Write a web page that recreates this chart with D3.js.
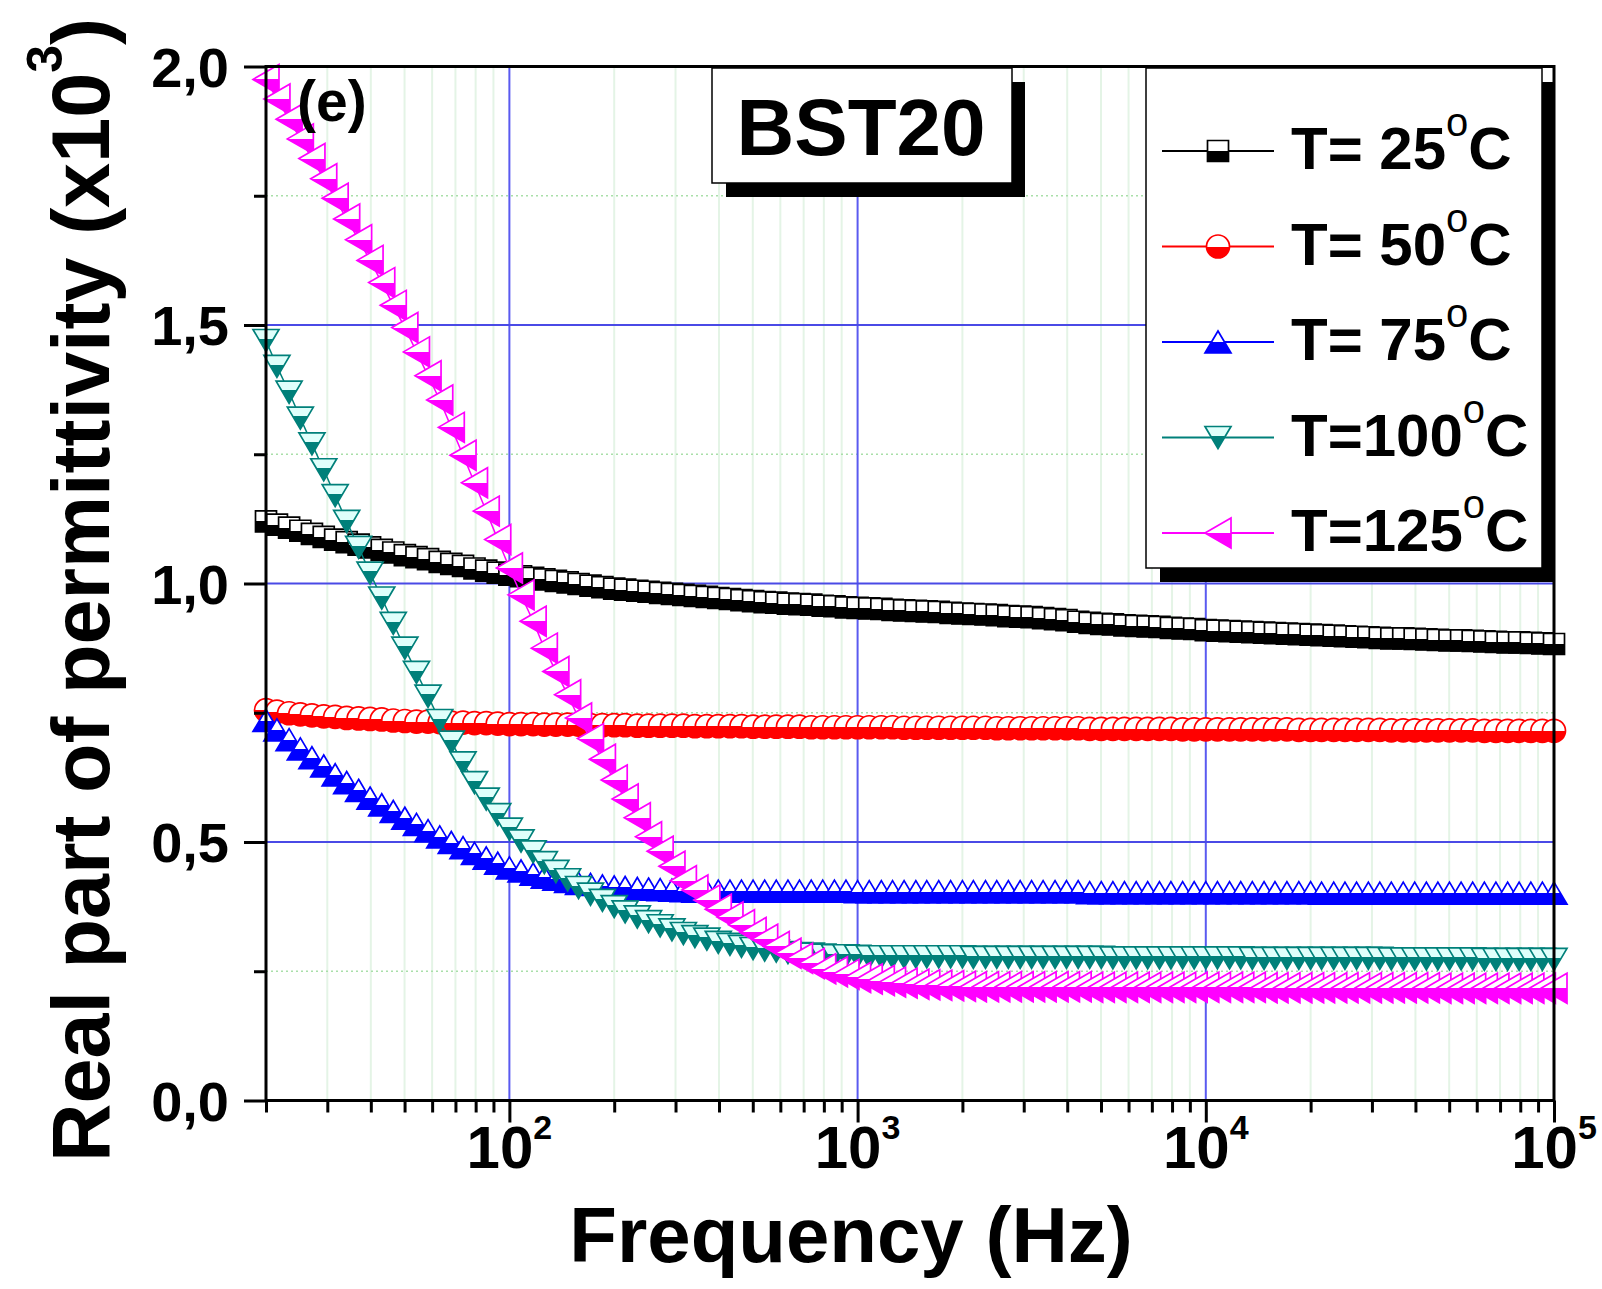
<!DOCTYPE html>
<html>
<head>
<meta charset="utf-8">
<script src="https://cdn.jsdelivr.net/npm/d3@7"></script>
<style>
  body { margin: 0; background: #fff; }
  svg { display: block; }
  text { font-family: "Liberation Sans", Arial, Helvetica, sans-serif; font-weight: bold; fill: #000; }
</style>
</head>
<body>
<svg id="chart" width="1602" height="1289"></svg>
<script>
// ---------------- DATA ----------------
const frequencies = [
  20, 21.5, 23.3, 25.1, 27.1, 29.3, 31.6, 34.1, 36.9, 39.8,
  43, 46.4, 50.1, 54.1, 58.4, 63.1, 68.1, 73.6, 79.4, 85.8, 92.6,
  100, 108, 117, 126, 136, 147, 158, 171, 185, 200,
  215, 233, 251, 271, 293, 316, 341, 369, 398, 430,
  464, 501, 541, 584, 631, 681, 736, 794, 858, 926,
  1000, 1080, 1170, 1260, 1360, 1470, 1580, 1710, 1850, 2000,
  2150, 2330, 2510, 2710, 2930, 3160, 3410, 3690, 3980, 4300,
  4640, 5010, 5410, 5840, 6310, 6810, 7360, 7940, 8580, 9260,
  10000, 10800, 11700, 12600, 13600, 14700, 15800, 17100, 18500, 20000,
  21500, 23300, 25100, 27100, 29300, 31600, 34100, 36900, 39800, 43000,
  46400, 50100, 54100, 58400, 63100, 68100, 73600, 79400, 85800, 92600,
  100000
];

// real part of permittivity (x10^3)
const eps25 = [
  1.120, 1.114, 1.108, 1.102, 1.096, 1.090, 1.085, 1.080, 1.075, 1.070,
  1.065, 1.060, 1.055, 1.051, 1.047, 1.042, 1.038, 1.034, 1.029, 1.025,
  1.021, 1.017, 1.014, 1.011, 1.008, 1.005, 1.002, 0.999, 0.996, 0.993,
  0.990, 0.988, 0.986, 0.984, 0.982, 0.980, 0.978, 0.976, 0.974, 0.972,
  0.970, 0.968, 0.966, 0.964, 0.963, 0.961, 0.960, 0.959, 0.957, 0.956,
  0.954, 0.953, 0.952, 0.951, 0.949, 0.948, 0.947, 0.946, 0.945, 0.943,
  0.942, 0.941, 0.940, 0.939, 0.937, 0.936, 0.935, 0.933, 0.931, 0.929,
  0.926, 0.924, 0.922, 0.921, 0.919, 0.918, 0.917, 0.916, 0.914, 0.913,
  0.912, 0.910, 0.909, 0.908, 0.907, 0.906, 0.905, 0.904, 0.903, 0.902,
  0.901, 0.900, 0.899, 0.898, 0.897, 0.896, 0.895, 0.894, 0.894, 0.893,
  0.892, 0.891, 0.890, 0.890, 0.889, 0.888, 0.887, 0.886, 0.886, 0.885,
  0.884, 0.883
];
const eps50 = [
  0.755, 0.752, 0.749, 0.747, 0.745, 0.743, 0.742, 0.740, 0.739, 0.738,
  0.737, 0.735, 0.734, 0.733, 0.733, 0.732, 0.731, 0.731, 0.730, 0.730,
  0.729, 0.728, 0.728, 0.728, 0.727, 0.727, 0.727, 0.727, 0.726, 0.726,
  0.726, 0.726, 0.725, 0.725, 0.725, 0.725, 0.725, 0.724, 0.724, 0.724,
  0.724, 0.724, 0.723, 0.723, 0.723, 0.723, 0.723, 0.722, 0.722, 0.722,
  0.722, 0.722, 0.722, 0.722, 0.722, 0.721, 0.721, 0.721, 0.721, 0.721,
  0.721, 0.721, 0.721, 0.720, 0.720, 0.720, 0.720, 0.720, 0.720, 0.720,
  0.720, 0.719, 0.719, 0.719, 0.719, 0.719, 0.719, 0.719, 0.719, 0.718,
  0.718, 0.718, 0.718, 0.718, 0.718, 0.718, 0.718, 0.718, 0.718, 0.717,
  0.717, 0.717, 0.717, 0.717, 0.717, 0.717, 0.717, 0.716, 0.716, 0.716,
  0.716, 0.716, 0.716, 0.716, 0.716, 0.715, 0.715, 0.715, 0.715, 0.715,
  0.715, 0.715
];
const eps75 = [
  0.735, 0.717, 0.698, 0.680, 0.663, 0.647, 0.630, 0.615, 0.600, 0.585,
  0.572, 0.559, 0.546, 0.534, 0.522, 0.510, 0.499, 0.489, 0.478, 0.469,
  0.459, 0.450, 0.444, 0.438, 0.432, 0.428, 0.424, 0.420, 0.418, 0.415,
  0.413, 0.412, 0.410, 0.409, 0.408, 0.407, 0.406, 0.405, 0.405, 0.405,
  0.405, 0.405, 0.405, 0.405, 0.405, 0.405, 0.405, 0.405, 0.405, 0.405,
  0.405, 0.404, 0.404, 0.404, 0.404, 0.404, 0.404, 0.404, 0.404, 0.404,
  0.404, 0.404, 0.404, 0.404, 0.404, 0.404, 0.404, 0.404, 0.404, 0.404,
  0.404, 0.402, 0.402, 0.402, 0.402, 0.402, 0.402, 0.402, 0.402, 0.402,
  0.402, 0.402, 0.402, 0.402, 0.402, 0.402, 0.402, 0.402, 0.402, 0.402,
  0.402, 0.401, 0.401, 0.401, 0.401, 0.401, 0.401, 0.401, 0.401, 0.401,
  0.401, 0.401, 0.401, 0.401, 0.401, 0.401, 0.401, 0.401, 0.401, 0.401,
  0.401, 0.401
];
const eps100 = [
  1.470, 1.420, 1.370, 1.320, 1.270, 1.220, 1.170, 1.120, 1.070, 1.020,
  0.972, 0.923, 0.875, 0.828, 0.782, 0.735, 0.693, 0.653, 0.615, 0.583,
  0.553, 0.525, 0.502, 0.481, 0.460, 0.443, 0.427, 0.412, 0.399, 0.387,
  0.375, 0.365, 0.355, 0.346, 0.338, 0.330, 0.323, 0.317, 0.312, 0.306,
  0.302, 0.298, 0.294, 0.291, 0.289, 0.286, 0.284, 0.283, 0.281, 0.280,
  0.280, 0.279, 0.278, 0.278, 0.278, 0.278, 0.278, 0.278, 0.278, 0.278,
  0.278, 0.277, 0.277, 0.277, 0.277, 0.277, 0.277, 0.277, 0.277, 0.277,
  0.277, 0.277, 0.277, 0.276, 0.276, 0.276, 0.276, 0.276, 0.276, 0.276,
  0.276, 0.276, 0.276, 0.276, 0.276, 0.275, 0.275, 0.275, 0.275, 0.275,
  0.275, 0.275, 0.275, 0.275, 0.275, 0.275, 0.275, 0.274, 0.274, 0.274,
  0.274, 0.274, 0.274, 0.274, 0.274, 0.273, 0.273, 0.273, 0.273, 0.273,
  0.273, 0.273
];
const eps125 = [
  1.975, 1.937, 1.898, 1.860, 1.822, 1.783, 1.745, 1.705, 1.665, 1.625,
  1.582, 1.538, 1.495, 1.448, 1.402, 1.355, 1.302, 1.248, 1.195, 1.140,
  1.085, 1.030, 0.978, 0.927, 0.875, 0.830, 0.785, 0.740, 0.700, 0.660,
  0.620, 0.583, 0.547, 0.510, 0.482, 0.453, 0.425, 0.407, 0.388, 0.370,
  0.355, 0.340, 0.325, 0.312, 0.298, 0.285, 0.275, 0.265, 0.255, 0.249,
  0.244, 0.238, 0.235, 0.232, 0.229, 0.227, 0.225, 0.224, 0.223, 0.222,
  0.221, 0.220, 0.220, 0.220, 0.220, 0.220, 0.220, 0.220, 0.220, 0.220,
  0.220, 0.219, 0.219, 0.219, 0.219, 0.219, 0.219, 0.219, 0.219, 0.219,
  0.219, 0.219, 0.219, 0.219, 0.219, 0.219, 0.218, 0.218, 0.218, 0.218,
  0.218, 0.218, 0.218, 0.218, 0.218, 0.218, 0.218, 0.218, 0.218, 0.218,
  0.218, 0.217, 0.217, 0.217, 0.217, 0.217, 0.217, 0.217, 0.217, 0.217,
  0.217, 0.217
];

const seriesValues = [eps25, eps50, eps75, eps100, eps125];
const seriesLabels = ["T= 25", "T= 50", "T= 75", "T=100", "T=125"];
const seriesColors = ["#000000", "#ff0000", "#0000ff", "#00807a", "#ff00ff"];
const seriesOpenColors = ["#ffffff", "#ffffff", "#ffffff", "#dffffb", "#ffffff"];
const seriesFillSplit = [0.5, 0.5, 0.5, 0.42, 0.5];
const seriesShapes = ["square", "circle", "triangleUp", "triangleDown", "triangleLeft"];

const xTickValues = [100, 1000, 10000, 100000];
const xTickExponents = ["2", "3", "4", "5"];
const yTickValues = [0, 0.5, 1.0, 1.5, 2.0];
const yTickLabels = ["0,0", "0,5", "1,0", "1,5", "2,0"];
const yMinorTickValues = [0.25, 0.75, 1.25, 1.75];

// ---------------- DRAWING ----------------
const svg = d3.select("#chart");
svg.append("rect").attr("width", 1602).attr("height", 1289).attr("fill", "#fff");

const x = d3.scaleLog().domain([20, 1e5]).range([266, 1554]);
const y = d3.scaleLinear().domain([0, 2]).range([1100.5, 66.5]);
const [xl, xr] = x.range();
const [yb, yt] = y.range();

const shapePaths = {
  square: "M-10.5,-10.5H10.5V10.5H-10.5Z",
  circle: "M-11.5,0A11.5,11.5 0 1,0 11.5,0A11.5,11.5 0 1,0 -11.5,0Z",
  triangleUp: "M0,-11L13,11H-13Z",
  triangleDown: "M0,11L13,-11H-13Z",
  triangleLeft: "M-13,0L13,-15V15Z"
};

// half-filled symbol gradients (top open, bottom solid)
const defs = svg.append("defs");
seriesColors.forEach((c, i) => {
  const g = defs.append("linearGradient").attr("id", "hf" + i)
    .attr("x1", 0).attr("y1", 0).attr("x2", 0).attr("y2", 1);
  g.append("stop").attr("offset", 0).attr("stop-color", seriesOpenColors[i]);
  g.append("stop").attr("offset", seriesFillSplit[i]).attr("stop-color", seriesOpenColors[i]);
  g.append("stop").attr("offset", seriesFillSplit[i]).attr("stop-color", c);
  g.append("stop").attr("offset", 1).attr("stop-color", c);
});

// grid
const isDecade = v => Math.abs(Math.log10(v) - Math.round(Math.log10(v))) < 1e-9;
const minorX = x.ticks().filter(v => !isDecade(v));
const majorXGrid = xTickValues.filter(v => v < 1e5);

const grid = svg.append("g");
grid.selectAll("line.vminor").data(minorX).join("line")
  .attr("x1", d => x(d)).attr("x2", d => x(d)).attr("y1", yt).attr("y2", yb)
  .attr("stroke", "#e4f4e6").attr("stroke-width", 2);
grid.selectAll("line.hminor").data(yMinorTickValues).join("line")
  .attr("x1", xl).attr("x2", xr).attr("y1", d => y(d)).attr("y2", d => y(d))
  .attr("stroke", "#a9dfa9").attr("stroke-width", 1.5).attr("stroke-dasharray", "2,3");
grid.selectAll("line.vmajor").data(majorXGrid).join("line")
  .attr("x1", d => x(d)).attr("x2", d => x(d)).attr("y1", yt).attr("y2", yb)
  .attr("stroke", "#5a5af0").attr("stroke-width", 2);
grid.selectAll("line.hmajor").data(yTickValues.filter(v => v > 0 && v < 2)).join("line")
  .attr("x1", xl).attr("x2", xr).attr("y1", d => y(d)).attr("y2", d => y(d))
  .attr("stroke", "#4a4ae6").attr("stroke-width", 2);

// data series
const lineGen = d3.line().x(d => x(d[0])).y(d => y(d[1]));
seriesValues.forEach((vals, i) => {
  const pts = d3.zip(frequencies, vals);
  const g = svg.append("g");
  g.append("path").datum(pts).attr("d", lineGen)
    .attr("fill", "none").attr("stroke", seriesColors[i]).attr("stroke-width", 1.5);
  g.selectAll("path.m").data(pts).join("path")
    .attr("class", "m")
    .attr("d", shapePaths[seriesShapes[i]])
    .attr("transform", d => `translate(${x(d[0])},${y(d[1])})`)
    .attr("fill", `url(#hf${i})`)
    .attr("stroke", seriesColors[i]).attr("stroke-width", 1.7);
});

// axes ticks
const styleAxis = g => {
  g.select(".domain").remove();
  g.selectAll("line").attr("stroke", "#000").attr("stroke-width", 3);
};
svg.append("g").attr("transform", `translate(0,${yb})`)
  .call(d3.axisBottom(x).tickValues(minorX).tickSize(12).tickFormat(""))
  .call(styleAxis);
svg.append("g").attr("transform", `translate(0,${yb})`)
  .call(d3.axisBottom(x).tickValues(xTickValues).tickSize(22).tickFormat(""))
  .call(styleAxis);
svg.append("g").attr("transform", `translate(${xl},0)`)
  .call(d3.axisLeft(y).tickValues(yMinorTickValues).tickSize(12).tickFormat(""))
  .call(styleAxis);
svg.append("g").attr("transform", `translate(${xl},0)`)
  .call(d3.axisLeft(y).tickValues(yTickValues).tickSize(22).tickFormat(""))
  .call(styleAxis);

// frame
svg.append("rect").attr("x", xl).attr("y", yt).attr("width", xr - xl).attr("height", yb - yt)
  .attr("fill", "none").attr("stroke", "#000").attr("stroke-width", 3);

// tick labels
svg.append("g").selectAll("text").data(yTickValues).join("text")
  .attr("x", 229).attr("y", d => y(d)).attr("dy", 20)
  .attr("text-anchor", "end").attr("font-size", 56)
  .text((d, i) => yTickLabels[i]);

const xl_g = svg.append("g").selectAll("text").data(xTickValues).join("text")
  .attr("x", d => x(d)).attr("y", 1168).attr("text-anchor", "middle").attr("font-size", 60);
xl_g.append("tspan").text("10");
xl_g.append("tspan").attr("font-size", 34).attr("dy", -29).text((d, i) => xTickExponents[i]);

// axis titles
svg.append("text").attr("x", 851).attr("y", 1262).attr("text-anchor", "middle")
  .attr("font-size", 78).text("Frequency (Hz)");

const yTitle = svg.append("text").attr("transform", "translate(109,590) rotate(-90)")
  .attr("text-anchor", "middle").attr("font-size", 81);
yTitle.append("tspan").text("Real part of permittivity (x10");
yTitle.append("tspan").attr("font-size", 50).attr("dy", -47).text("3");
yTitle.append("tspan").attr("dy", 47).text(")");

// BST20 box
svg.append("rect").attr("x", 726).attr("y", 82).attr("width", 299).attr("height", 115).attr("fill", "#000");
svg.append("rect").attr("x", 712).attr("y", 68).attr("width", 300).attr("height", 115)
  .attr("fill", "#fff").attr("stroke", "#000").attr("stroke-width", 1.5);
svg.append("text").attr("x", 861).attr("y", 155).attr("text-anchor", "middle")
  .attr("font-size", 80).text("BST20");

// legend box
svg.append("rect").attr("x", 1160).attr("y", 82).attr("width", 395).attr("height", 500).attr("fill", "#000");
svg.append("rect").attr("x", 1146).attr("y", 68).attr("width", 396).attr("height", 500)
  .attr("fill", "#fff").attr("stroke", "#000").attr("stroke-width", 1.5);

const legendRows = svg.append("g").selectAll("g").data(seriesLabels).join("g")
  .attr("transform", (d, i) => `translate(0,${151 + 95.5 * i})`);
legendRows.append("line").attr("x1", 1162).attr("x2", 1274).attr("y1", 0).attr("y2", 0)
  .attr("stroke", (d, i) => seriesColors[i]).attr("stroke-width", 2);
legendRows.append("path").attr("d", (d, i) => shapePaths[seriesShapes[i]])
  .attr("transform", "translate(1218,0)")
  .attr("fill", (d, i) => `url(#hf${i})`)
  .attr("stroke", (d, i) => seriesColors[i]).attr("stroke-width", 1.7);
const lt = legendRows.append("text").attr("x", 1291).attr("y", 18).attr("font-size", 60);
lt.append("tspan").text(d => d);
lt.append("tspan").attr("font-size", 40).attr("font-weight", "normal").attr("dy", -33).text("o");
lt.append("tspan").attr("dy", 33).text("C");

// panel label
svg.append("text").attr("x", 297).attr("y", 121).attr("font-size", 57).text("(e)");
</script>
</body>
</html>
